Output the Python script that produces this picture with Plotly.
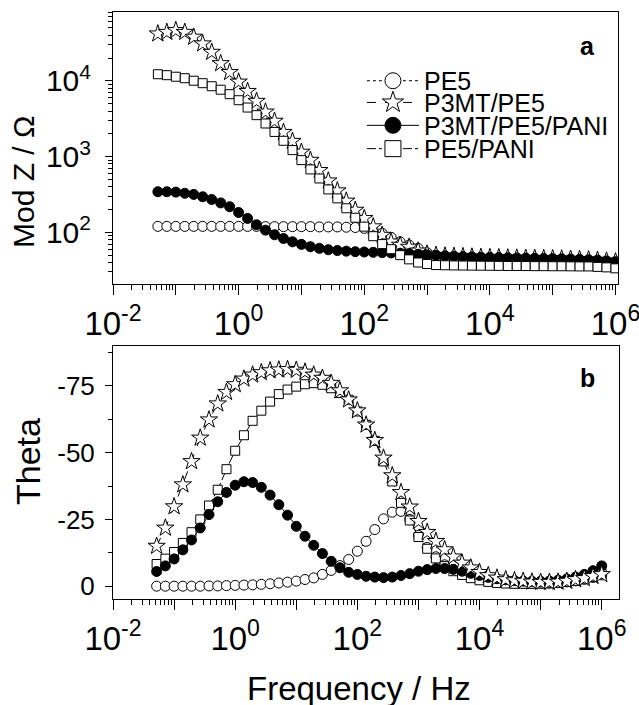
import plotly.graph_objects as go

# frequency in Hz (7 points per decade)
freq = [0.0518, 0.0720,
        0.100, 0.139, 0.193, 0.268, 0.373, 0.518, 0.720,
        1.00, 1.39, 1.93, 2.68, 3.73, 5.18, 7.20,
        10.0, 13.9, 19.3, 26.8, 37.3, 51.8, 72.0,
        100, 139, 193, 268, 373, 518, 720,
        1000, 1390, 1930, 2680, 3730, 5180, 7200,
        10000, 13900, 19300, 26800, 37300, 51800, 72000,
        100000, 139000, 193000, 268000, 373000, 518000, 720000,
        1000000]

# panel a: Mod Z / Ohm
modz_pe5 = [120, 120, 120, 120, 120, 120, 120, 120, 120, 120, 120, 120, 119, 119,
            119, 119, 119, 119, 118, 118, 118, 117, 116, 113, 106, 97, 86, 75, 68,
            61.5, 54, 50, 48.5, 47.5, 47, 46.5, 46, 45.8, 45.5, 45.2, 45, 44.7, 44.5,
            44.2, 44, 43.7, 43.4, 43, 42.5, 42, 41, 40]
modz_p3mt_pe5 = [42000, 44000, 46500, 44000, 38000, 31000, 24000, 17000, 13000, 9700,
                 7300, 5400, 3900, 2950, 2100, 1600, 1150, 900, 660, 480, 355, 260,
                 197, 153, 119, 92, 75, 68, 64, 57, 52, 50, 49, 48.5, 48, 47.5, 47,
                 46.8, 46.5, 46.2, 46, 45.7, 45.5, 45.2, 45, 44.7, 44.4, 44, 43.5, 43,
                 42, 41]
modz_p3mt_pe5_pani = [344, 344, 340, 328, 317, 295, 272, 245, 218, 183, 153, 126, 107,
                      93, 83, 75, 69.5, 64.6, 61.5, 59, 57.5, 56.5, 55.5, 55, 54.5, 54,
                      53.5, 53, 52.5, 51.5, 50.5, 49.5, 49, 48.5, 48, 47.5, 47, 46.8,
                      46.5, 46.2, 46, 45.7, 45.5, 45.2, 45, 44.7, 44.4, 44, 43.5, 43,
                      42, 41]
modz_pe5_pani = [12250, 11900, 11360, 10850, 10060, 9330, 8510, 7650, 6680, 5560, 4450,
                 3530, 2740, 2120, 1620, 1220, 900, 678, 515, 369, 281, 208, 156, 119,
                 89, 70, 60, 50, 44, 40, 38.2, 37, 36.8, 36.6, 36.5, 36.4, 36.3, 36.2,
                 36.1, 36, 36, 35.9, 35.8, 35.8, 35.7, 35.7, 35.6, 35.5, 35.5, 35,
                 34.5, 33.5]

# panel b: Theta
theta_pe5 = [0.0, 0.0, 0.0, 0.0, 0.0, 0.0, -0.1, -0.1, -0.2, -0.3, -0.4, -0.5, -0.7,
             -0.9, -1.2, -1.5, -1.9, -2.5, -3.1, -4.4, -5.9, -7.7, -10, -13.1, -16.8,
             -21.2, -25.2, -27.7, -28, -25, -19, -14.5, -11, -8, -6.2, -4.8, -3.5,
             -2.7, -2.1, -1.7, -1.4, -1.2, -1.1, -1.0, -1.0, -1.1, -1.3, -1.6, -2.0,
             -2.6, -3.3, -4.2]
theta_p3mt_pe5 = [-15, -21.8, -29.8, -38, -46.7, -55.5, -62.3, -68.3, -72.6, -75.5,
                  -77.6, -79.1, -80, -80.7, -81, -81.2, -80.9, -80.2, -79.1, -77.9,
                  -76, -73.2, -69.8, -65.7, -60.4, -54.6, -48, -41.4, -35.1, -29.7,
                  -24.3, -20.2, -16.8, -13.7, -11, -8.7, -6.9, -5.2, -4, -3.1, -2.5,
                  -2.1, -1.9, -1.6, -1.5, -1.5, -1.6, -1.9, -2.5, -2.9, -3.7, -4.4]
theta_p3mt_pe5_pani = [-5.5, -7.6, -10.2, -13.6, -17.3, -21.8, -26.8, -31.6, -35.1,
                       -37.8, -39.1, -38.8, -37, -34.1, -30.5, -26.6, -22.4, -18.7,
                       -15.3, -12.2, -9.3, -6.9, -5.2, -4.4, -3.7, -3.4, -3.2, -3.4,
                       -4, -4.7, -5.6, -6.2, -6.6, -6.6, -6.3, -5.6, -4.8, -4.0, -3.3,
                       -2.8, -2.4, -2.1, -1.9, -1.8, -1.8, -1.9, -2.2, -2.7, -3.4,
                       -4.4, -5.8, -7.6]
theta_pe5_pani = [-8.3, -10.3, -12.8, -16.2, -20.2, -25, -30.2, -36.1, -43.8, -50.7,
                  -56.5, -61.9, -65.7, -69.1, -71.9, -73.6, -74.7, -75.6, -76, -75.4,
                  -74.1, -72.3, -69.8, -65.4, -60.4, -54.4, -46.7, -39.2, -31.2, -24.6,
                  -18.4, -14, -10.4, -7.5, -5.6, -4.2, -3.0, -2.2, -1.6, -1.2, -1.0,
                  -0.9, -0.9, -0.9, -1.0, -1.1, -1.3, -1.6, -2.0, -2.6, -3.4, -4.5]

labels = ["PE5", "P3MT/PE5", "P3MT/PE5/PANI", "PE5/PANI"]
decade_vals = [0.01, 0.1, 1, 10, 100, 1000, 10000, 100000, 1000000]
decade_text = ["10<sup>-2</sup>", "", "10<sup>0</sup>", "", "10<sup>2</sup>", "",
               "10<sup>4</sup>", "", "10<sup>6</sup>"]

FONT = "Liberation Sans, Arial, sans-serif"

# name -> (symbol, fill, dash, size)
styles = {
    "PE5": ("circle", "white", "dot", 10),
    "P3MT/PE5": ("star", "white", "dash", 13),
    "P3MT/PE5/PANI": ("circle", "black", "solid", 10),
    "PE5/PANI": ("square", "white", "dashdot", 9),
}
modz = dict(zip(labels, [modz_pe5, modz_p3mt_pe5, modz_p3mt_pe5_pani, modz_pe5_pani]))
theta = dict(zip(labels, [theta_pe5, theta_p3mt_pe5, theta_p3mt_pe5_pani, theta_pe5_pani]))


def data_trace(name, y, xaxis, yaxis):
    symbol, fill, dash, size = styles[name]
    return go.Scatter(
        x=freq, y=y, mode="lines+markers", name=name, showlegend=False,
        xaxis=xaxis, yaxis=yaxis,
        line=dict(color="black", width=1, dash=dash),
        marker=dict(symbol=symbol, size=size, color=fill,
                    line=dict(color="black", width=1)),
    )


fig = go.Figure()

# drawing order differs a little between the two panels
for name in ["PE5", "P3MT/PE5", "P3MT/PE5/PANI", "PE5/PANI"]:
    fig.add_trace(data_trace(name, modz[name], "x", "y"))
for name in ["PE5", "PE5/PANI", "P3MT/PE5/PANI", "P3MT/PE5"]:
    fig.add_trace(data_trace(name, theta[name], "x2", "y2"))

# legend entries, one legend per row so the rows sit close together
legend_ids = ["legend", "legend2", "legend3", "legend4"]
row_y = [0.8825, 0.8455, 0.8065, 0.7668]
for name, lid in zip(labels, legend_ids):
    symbol, fill, dash, size = styles[name]
    fig.add_trace(go.Scatter(
        x=[None], y=[None], mode="lines+markers", name=name, legend=lid,
        xaxis="x", yaxis="y",
        line=dict(color="black", width=1, dash=dash),
        marker=dict(symbol=symbol, size=16, color=fill,
                    line=dict(color="black", width=1)),
    ))

legend_common = dict(
    x=0.492, xanchor="left", yanchor="middle", bgcolor="rgba(0,0,0,0)",
    borderwidth=0, itemwidth=52, font=dict(family=FONT, size=25, color="black"),
)
legend_layout = {lid: dict(legend_common, y=yy) for lid, yy in zip(legend_ids, row_y)}

minor_x = [m * d for d in decade_vals[:-1] for m in range(2, 10)]
minor_y = [m * d for d in [10, 100, 1000, 10000] for m in range(2, 10)]

axis_common = dict(
    showline=True, linecolor="black", linewidth=1, mirror=True, automargin=False,
    showgrid=False, zeroline=False, ticks="outside", tickcolor="black", tickwidth=1,
)

fig.update_layout(
    width=639, height=705,
    margin=dict(l=113, r=20, t=12, b=106, autoexpand=False),
    plot_bgcolor="white", paper_bgcolor="white",
    font=dict(family=FONT, color="black"),
    xaxis=dict(axis_common, type="log", range=[-2, 6.04], domain=[0, 0.998],
               anchor="y", tickvals=decade_vals, ticktext=decade_text, ticklen=10,
               tickfont=dict(size=33), ticklabeloverflow="allow",
               minor=dict(tickvals=minor_x, ticks="outside", ticklen=5,
                          tickcolor="black", showgrid=False)),
    yaxis=dict(axis_common, type="log", range=[1.318, 4.91], domain=[0.5366, 1],
               anchor="x", tickvals=[100, 1000, 10000],
               ticktext=["10<sup>2</sup>", "10<sup>3</sup>", "10<sup>4</sup>"],
               ticklen=7, ticklabelstandoff=8, tickfont=dict(size=30),
               minor=dict(tickvals=minor_y, ticks="outside", ticklen=4,
                          tickcolor="black", showgrid=False)),
    xaxis2=dict(axis_common, type="log", range=[-2, 6.283], domain=[0, 1],
                anchor="y2", tickvals=decade_vals, ticktext=decade_text, ticklen=10,
                tickfont=dict(size=33), ticklabeloverflow="allow",
                minor=dict(tickvals=minor_x, ticks="outside", ticklen=5,
                           tickcolor="black", showgrid=False)),
    yaxis2=dict(axis_common, range=[4.8, -89.8], domain=[0, 0.4305], anchor="x2",
                tickvals=[-75, -50, -25, 0], ticktext=["-75", "-50", "-25", "0"],
                ticklen=7, ticklabelstandoff=5, tickfont=dict(size=26),
                minor=dict(tickvals=[-87.5, -62.5, -37.5, -12.5], ticks="outside",
                           ticklen=4, tickcolor="black", showgrid=False)),
    annotations=[
        dict(text="<b>a</b>", x=0.9565, y=0.942, xref="paper", yref="paper",
             xanchor="right", yanchor="middle", showarrow=False, font=dict(size=25)),
        dict(text="<b>b</b>", x=0.9565, y=0.3765, xref="paper", yref="paper",
             xanchor="right", yanchor="middle", showarrow=False, font=dict(size=25)),
        dict(text="Mod Z / Ω", x=-0.1759, y=0.7104, xref="paper", yref="paper",
             xanchor="center", yanchor="middle",
             textangle=-90, showarrow=False, font=dict(size=30)),
        dict(text="Theta", x=-0.168, y=0.2351, xref="paper", yref="paper",
             xanchor="center", yanchor="middle",
             textangle=-90, showarrow=False, font=dict(size=34)),
        dict(text="Frequency / Hz", x=0.4862, y=-0.153, xref="paper", yref="paper",
             xanchor="center", yanchor="middle", showarrow=False, font=dict(size=33)),
    ],
    **legend_layout,
)

# drop the browser's default page margin so the figure sits at the top-left corner
fig.write_html("out.html", config={"displayModeBar": False},
               post_script="document.body.style.margin = '0px';")
